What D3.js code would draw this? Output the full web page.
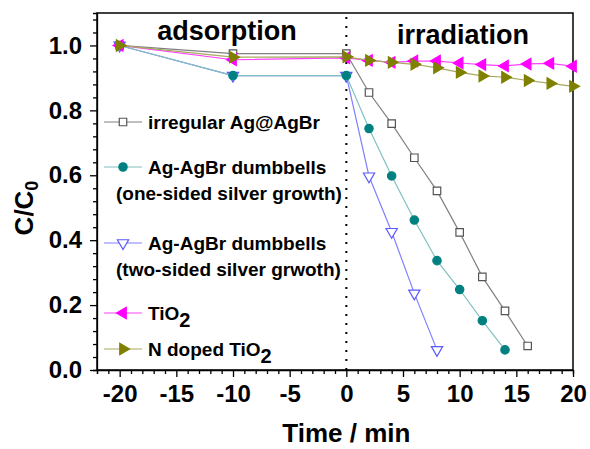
<!DOCTYPE html>
<html>
<head>
<meta charset="utf-8">
<script src="https://cdn.jsdelivr.net/npm/d3@7"></script>
<style>
  body { margin: 0; background: #fff; }
  text { font-family: "Liberation Sans", Arial, sans-serif; font-weight: bold; fill: #000; }
</style>
</head>
<body>
<div id="chart"></div>
<script>
// Data
const irregularT = [-20, -10, 0, 2, 4, 6, 8, 10, 12, 14, 16];
const irregularV = [1.0, 0.975, 0.975, 0.855, 0.759, 0.654, 0.552, 0.424, 0.287, 0.182, 0.074];

const oneSidedT = [-20, -10, 0, 2, 4, 6, 8, 10, 12, 14];
const oneSidedV = [1.0, 0.907, 0.907, 0.744, 0.598, 0.462, 0.337, 0.248, 0.152, 0.062];

const twoSidedT = [-20, -10, 0, 2, 4, 6, 8];
const twoSidedV = [1.0, 0.907, 0.907, 0.597, 0.426, 0.236, 0.062];

const tio2T = [-20, -10, 0, 2, 4, 6, 8, 10, 12, 14, 16, 18, 20];
const tio2V = [1.0, 0.956, 0.962, 0.954, 0.948, 0.952, 0.952, 0.946, 0.941, 0.937, 0.943, 0.945, 0.936];

const nDopedT = [-20, -10, 0, 2, 4, 6, 8, 10, 12, 14, 16, 18, 20];
const nDopedV = [1.0, 0.964, 0.965, 0.954, 0.948, 0.942, 0.931, 0.917, 0.906, 0.902, 0.892, 0.883, 0.874];

const xTicks = [-20, -15, -10, -5, 0, 5, 10, 15, 20];
const yTicks = [0.0, 0.2, 0.4, 0.6, 0.8, 1.0];
const phaseLabels = ["adsorption", "irradiation"];

const W = 590, H = 449;
const margin = {top: 13, right: 17, bottom: 79, left: 97};

const svg = d3.select("#chart").append("svg")
    .attr("width", W)
    .attr("height", H);

const x = d3.scaleLinear().domain([-22, 20]).range([margin.left, W - margin.right]);
const y = d3.scaleLinear().domain([0, 1.1]).range([H - margin.bottom, margin.top]);

// axes - minor ticks first, then the labelled major ones
const xAxis = svg.append("g")
    .attr("transform", `translate(0,${y(0)})`)
    .call(d3.axisBottom(x).tickValues(d3.range(-22, 21, 1)).tickSize(4).tickFormat(""));
xAxis.selectAll(".tick line").filter(d => d % 5 === 0).attr("y2", 7);
svg.append("g")
    .attr("transform", `translate(0,${y(0)})`)
    .call(d3.axisBottom(x).tickValues(xTicks).tickSize(0).tickPadding(15).tickFormat(d => String(d)))
    .call(g => g.select(".domain").remove())
    .selectAll("text")
    .style("font-size", "24px");

const yAxis = svg.append("g")
    .attr("transform", `translate(${x(-22)},0)`)
    .call(d3.axisLeft(y).tickValues(d3.range(0, 1.1, 0.04)).tickSize(4).tickFormat(""));
yAxis.selectAll(".tick line").filter(d => Math.abs(Math.round(d * 5) - d * 5) < 1e-6).attr("x2", -7);
svg.append("g")
    .attr("transform", `translate(${x(-22)},0)`)
    .call(d3.axisLeft(y).tickValues(yTicks).tickSize(0).tickPadding(15).tickFormat(d3.format(".1f")))
    .call(g => g.select(".domain").remove())
    .selectAll("text")
    .style("font-size", "24px");

svg.selectAll(".domain, .tick line").attr("stroke", "#000").attr("stroke-width", 1.3);

// frame
svg.append("rect")
    .attr("x", x(-22))
    .attr("y", y(1.1))
    .attr("width", x(20) - x(-22))
    .attr("height", y(0) - y(1.1))
    .attr("fill", "none")
    .attr("stroke", "#000")
    .attr("stroke-width", 1.5);

// dotted divider at t = 0
svg.append("line")
    .attr("x1", x(0)).attr("x2", x(0))
    .attr("y1", y(1.1) + 4).attr("y2", y(0))
    .attr("stroke", "#000")
    .attr("stroke-width", 2)
    .attr("stroke-dasharray", "2,7");

svg.append("text").attr("x", 227).attr("y", 40).attr("text-anchor", "middle")
    .style("font-size", "27px").text(phaseLabels[0]);
svg.append("text").attr("x", 463).attr("y", 44).attr("text-anchor", "middle")
    .style("font-size", "27px").text(phaseLabels[1]);

// series
const series = [
    {t: irregularT, v: irregularV, line: "#808080", stroke: "#555", fill: "#fff", type: d3.symbolSquare, size: 56, rot: 0},
    {t: twoSidedT, v: twoSidedV, line: "#8080ff", stroke: "#5a5aff", fill: "#fff", type: d3.symbolTriangle, size: 55, rot: 180},
    {t: oneSidedT, v: oneSidedV, line: "#80c0c0", stroke: "#008080", fill: "#008080", type: d3.symbolCircle, size: 55, rot: 0},
    {t: tio2T, v: tio2V, line: "#ff40ff", stroke: "#ff00ff", fill: "#ff00ff", type: d3.symbolTriangle, size: 55, rot: -90},
    {t: nDopedT, v: nDopedV, line: "#a8a860", stroke: "#808000", fill: "#808000", type: d3.symbolTriangle, size: 55, rot: 90}
];

const line = d3.line().x(d => x(d[0])).y(d => y(d[1]));

series.forEach(s => {
    const pts = s.t.map((t, i) => [t, s.v[i]]);
    svg.append("path")
        .datum(pts)
        .attr("fill", "none")
        .attr("stroke", s.line)
        .attr("stroke-width", 1.2)
        .attr("d", line);
    svg.selectAll(null)
        .data(pts)
        .enter()
        .append("path")
        .attr("d", d3.symbol().type(s.type).size(s.size))
        .attr("transform", d => `translate(${x(d[0])},${y(d[1])}) rotate(${s.rot})`)
        .attr("fill", s.fill)
        .attr("stroke", s.stroke)
        .attr("stroke-width", 1.2);
});

// legend
const legendItems = [
    {s: series[0], y: 122, lines: ["irregular Ag@AgBr"]},
    {s: series[2], y: 167, lines: ["Ag-AgBr dumbbells", "(one-sided silver growth)"]},
    {s: series[1], y: 243, lines: ["Ag-AgBr dumbbells", "(two-sided silver grwoth)"]},
    {s: series[3], y: 313, lines: ["TiO", "2"]},
    {s: series[4], y: 349, lines: ["N doped TiO", "2"]}
];

legendItems.forEach((item, k) => {
    const g = svg.append("g");
    g.append("line")
        .attr("x1", 104).attr("x2", 142)
        .attr("y1", item.y).attr("y2", item.y)
        .attr("stroke", item.s.line)
        .attr("stroke-width", 1.2);
    g.append("path")
        .attr("d", d3.symbol().type(item.s.type).size(item.s.size))
        .attr("transform", `translate(123,${item.y}) rotate(${item.s.rot})`)
        .attr("fill", item.s.fill)
        .attr("stroke", item.s.stroke)
        .attr("stroke-width", 1.2);
    if (k >= 3) {
        const t = g.append("text").attr("x", 148).attr("y", item.y + 7).style("font-size", "19px");
        t.append("tspan").text(item.lines[0]);
        t.append("tspan").attr("dy", 7).style("font-size", "20px").text(item.lines[1]);
    } else {
        g.append("text").attr("x", 148).attr("y", item.y + 7).style("font-size", "19px").text(item.lines[0]);
        if (item.lines[1]) {
            g.append("text").attr("x", 116).attr("y", item.y + 33).style("font-size", "19px").text(item.lines[1]);
        }
    }
});

// axis titles
svg.append("text")
    .attr("x", x(0))
    .attr("y", 442)
    .attr("text-anchor", "middle")
    .style("font-size", "26px")
    .text("Time / min");

const yt = svg.append("text")
    .attr("transform", "translate(33,208) rotate(-90)")
    .attr("text-anchor", "middle")
    .style("font-size", "26px");
yt.append("tspan").text("C/C");
yt.append("tspan").attr("dy", 5).style("font-size", "18px").text("0");
</script>
</body>
</html>
